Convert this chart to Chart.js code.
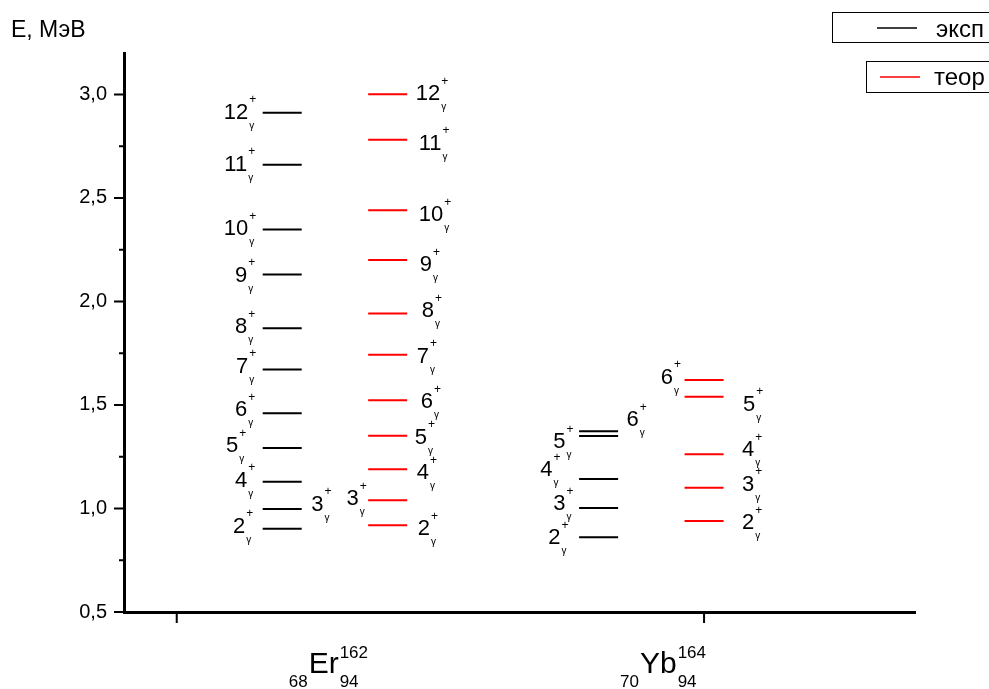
<!DOCTYPE html>
<html>
<head>
<meta charset="utf-8">
<script src="https://cdn.jsdelivr.net/npm/chart.js@4"></script>
<style>
  html, body { margin: 0; padding: 0; background: #fff; }
</style>
</head>
<body>
<canvas id="canvas1" width="989" height="689"></canvas>
<script>
// gamma-band level energies, MeV
var erSpins = [2, 3, 4, 5, 6, 7, 8, 9, 10, 11, 12];
var erExp   = [0.902, 0.998, 1.129, 1.292, 1.460, 1.671, 1.871, 2.130, 2.348, 2.660, 2.911];
var erTheor = [0.919, 1.040, 1.189, 1.351, 1.523, 1.742, 1.942, 2.200, 2.440, 2.781, 3.001];

var ybSpins = [2, 3, 4, 5, 6];
var ybExp   = [0.861, 1.002, 1.142, 1.350, 1.373];
var ybTheor = [0.939, 1.100, 1.262, 1.540, 1.621];

var yTicks = [0.5, 1.0, 1.5, 2.0, 2.5, 3.0];

var nucX   = [1, 2];
var nucZ   = ['68', '70'];
var nucSym = ['Er', 'Yb'];
var nucA   = ['162', '164'];
var nucN   = ['94', '94'];

var FONT = '"Liberation Sans", Arial, sans-serif';
var HALF = 0.037;   // half length of a level line, x units

// label placement: [align, dx px from line centre, dy px from line]
var erExpLay   = [['r',-37,-4],['l',29,-6],['r',-35,-3],['r',-44,-4],['r',-35,-5],['r',-34,-5],
                  ['r',-35,-3],['r',-35,-1],['r',-34,-2],['r',-35,-2],['r',-34,-2]];
var erTheorLay = [['l',30,2],['r',-29,-3],['l',29,2],['l',27,0],['l',33,0],['l',29,0],
                  ['l',34,-4],['l',32,3],['l',31,3],['l',31,2],['l',28,-2]];
var ybExpLay   = [['r',-38,-1],['r',-33,-6],['r',-46,-11],['r',-33,4],['l',28,-13]];
var ybTheorLay = [['l',38,0],['l',38,-5],['l',38,-6],['l',39,6],['r',-31,-4]];

var columns = [
  { x: nucX[0] + 0.2, levels: erExp,   spins: erSpins, lay: erExpLay },
  { x: nucX[0] + 0.4, levels: erTheor, spins: erSpins, lay: erTheorLay },
  { x: nucX[1] - 0.2, levels: ybExp,   spins: ybSpins, lay: ybExpLay },
  { x: nucX[1],       levels: ybTheor, spins: ybSpins, lay: ybTheorLay }
];

function segs(levels, xc) {
  var pts = [];
  levels.forEach(function(E) {
    pts.push({x: xc - HALF, y: E}, {x: xc + HALF, y: E}, {x: xc, y: null});
  });
  return pts;
}

function drawSpin(ctx, spin, align, x, cy) {
  var txt = String(spin);
  ctx.font = '22px ' + FONT;
  var w = ctx.measureText(txt).width;
  var x0 = align === 'r' ? x - w : x;
  ctx.textAlign = 'left';
  ctx.textBaseline = 'alphabetic';
  ctx.fillText(txt, x0, cy + 8);
  ctx.font = '12px ' + FONT;
  ctx.fillText('+', x0 + w + 1, cy - 7.5);
  ctx.font = '10px ' + FONT;
  ctx.fillText('\u03b3', x0 + w + 1, cy + 18);
}

var extras = {
  id: 'extras',
  afterDraw: function(chart) {
    var ctx = chart.ctx, xs = chart.scales.x, ys = chart.scales.y, a = chart.chartArea;
    ctx.save();
    ctx.fillStyle = '#000';
    ctx.strokeStyle = '#000';

    // level labels
    columns.forEach(function(col) {
      var cx = xs.getPixelForValue(col.x);
      col.levels.forEach(function(E, i) {
        var l = col.lay[i];
        drawSpin(ctx, col.spins[i], l[0], cx + l[1], ys.getPixelForValue(E) + l[2]);
      });
    });

    // axis tick marks
    ctx.lineWidth = 2;
    ctx.beginPath();
    yTicks.forEach(function(v, i) {
      var y = ys.getPixelForValue(v);
      ctx.moveTo(a.left - 10, y); ctx.lineTo(a.left, y);
      if (i < yTicks.length - 1) {
        var ym = ys.getPixelForValue((v + yTicks[i + 1]) / 2);
        ctx.moveTo(a.left - 5, ym); ctx.lineTo(a.left, ym);
      }
    });
    nucX.forEach(function(v) {
      var x = xs.getPixelForValue(v);
      ctx.moveTo(x, a.bottom); ctx.lineTo(x, a.bottom + 11);
    });
    ctx.stroke();

    // y axis title
    ctx.font = '23px ' + FONT;
    ctx.textAlign = 'left';
    ctx.textBaseline = 'alphabetic';
    ctx.fillText('E, \u041c\u044d\u0412', 11, 37);

    // nucleus labels
    var offs = [112, -84];
    nucX.forEach(function(v, i) {
      var x = xs.getPixelForValue(v) + offs[i];
      ctx.font = '17px ' + FONT;
      var wz = ctx.measureText(nucZ[i]).width;
      ctx.fillText(nucZ[i], x, 687);
      ctx.font = '30px ' + FONT;
      var ws = ctx.measureText(nucSym[i]).width;
      ctx.fillText(nucSym[i], x + wz + 1, 673);
      ctx.font = '17px ' + FONT;
      ctx.fillText(nucA[i], x + wz + ws + 2, 658);
      ctx.fillText(nucN[i], x + wz + ws + 2, 687);
    });

    // legend boxes
    ctx.lineWidth = 1;
    ctx.strokeRect(832.5, 12.5, 200, 30);
    ctx.strokeRect(866.5, 61.5, 200, 31);
    ctx.lineWidth = 1.5;
    ctx.beginPath(); ctx.moveTo(877, 28); ctx.lineTo(917, 28); ctx.stroke();
    ctx.strokeStyle = '#ff0000';
    ctx.beginPath(); ctx.moveTo(880, 77); ctx.lineTo(920, 77); ctx.stroke();
    ctx.font = '24px ' + FONT;
    ctx.fillText('\u044d\u043a\u0441\u043f', 936, 37);
    ctx.fillText('\u0442\u0435\u043e\u0440', 934, 85);
    ctx.restore();
  }
};

window.onload = function() {
  var ctx1 = document.getElementById('canvas1').getContext('2d');
  window.myLevels = new Chart(ctx1, {
    type: 'line',
    data: {
      datasets: [
        {
          label: '\u044d\u043a\u0441\u043f',
          data: segs(erExp, columns[0].x).concat(segs(ybExp, columns[2].x)),
          borderColor: '#000', borderWidth: 2, pointRadius: 0, spanGaps: false
        },
        {
          label: '\u0442\u0435\u043e\u0440',
          data: segs(erTheor, columns[1].x).concat(segs(ybTheor, columns[3].x)),
          borderColor: '#ff0000', borderWidth: 2, pointRadius: 0, spanGaps: false
        }
      ]
    },
    options: {
      responsive: false,
      animation: false,
      layout: { padding: { left: 0, top: 53, right: 74, bottom: 0 } },
      plugins: { legend: { display: false }, tooltip: { enabled: false } },
      scales: {
        x: {
          type: 'linear', min: 0.9, max: 2.4,
          grid: { display: false, drawTicks: false },
          border: { display: true, color: '#000', width: 3 },
          ticks: { display: false },
          afterFit: function(s) { s.height = 77; }
        },
        y: {
          type: 'linear', min: 0.5, max: 3.2,
          afterBuildTicks: function(s) { s.ticks = yTicks.map(function(v) { return {value: v}; }); },
          grid: { display: false, drawTicks: false },
          border: { display: true, color: '#000', width: 3 },
          ticks: {
            color: '#000', padding: 17,
            font: { size: 20, family: FONT },
            callback: function(v) { return v.toFixed(1).replace('.', ','); }
          },
          afterFit: function(s) { s.width = 124; }
        }
      }
    },
    plugins: [extras]
  });
};
</script>
</body>
</html>
